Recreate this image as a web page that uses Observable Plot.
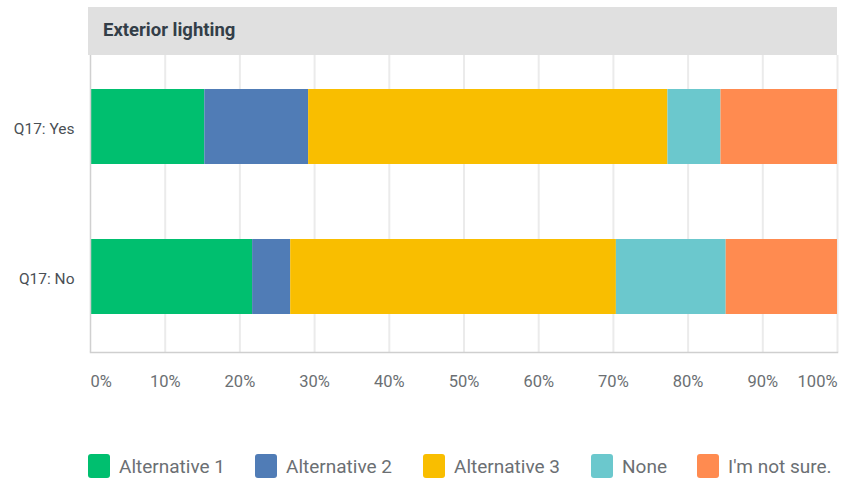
<!DOCTYPE html>
<html>
<head>
<meta charset="utf-8">
<script src="https://cdn.jsdelivr.net/npm/d3@7"></script>
<script src="https://cdn.jsdelivr.net/npm/@observablehq/plot@0.6"></script>
<style>
  html, body { margin: 0; padding: 0; background: #fff; }
  body { width: 841px; height: 481px; position: relative; overflow: hidden; font-family: Roboto, "Noto Sans", sans-serif; }
  #header { position: absolute; top: 7px; left: 88px; width: 749px; height: 48px; background: #e0e0e0;
            box-sizing: border-box; padding-left: 15px; line-height: 46px; font-size: 18.5px; font-weight: 700; color: #333e48; }
  #chart { position: absolute; top: 55px; left: 0; }
  #legend { position: absolute; top: 454px; left: 0; width: 841px; height: 24px; font-size: 19px; color: #6b6f73; }
  .item { position: absolute; top: 0; display: flex; align-items: center; height: 24px; white-space: nowrap; }
  .sw { width: 22px; height: 24px; border-radius: 3px; margin-right: 9px; }
</style>
</head>
<body>
<div id="header"></div>
<div id="chart"></div>
<div id="legend"></div>
<script>
const title = "Exterior lighting";
const categories = ["Q17: Yes", "Q17: No"];
const seriesNames = ["Alternative 1", "Alternative 2", "Alternative 3", "None", "I'm not sure."];
const colors = ["#00bf6f", "#507cb6", "#f9be00", "#6bc8cd", "#ff8b50"];
const valuesYes = [15.3, 13.9, 48.1, 7.1, 15.6];
const valuesNo = [21.7, 5.1, 43.6, 14.7, 14.9];
const tickValues = [0, 10, 20, 30, 40, 50, 60, 70, 80, 90, 100];

// layout (legend item left edges, px)
const legendLeft = [88, 255, 423, 591, 697];

const rows = [];
[valuesYes, valuesNo].forEach((vals, ci) => {
  vals.forEach((v, si) => rows.push({cat: categories[ci], series: seriesNames[si], value: v}));
});

document.getElementById("header").textContent = title;

const fmt = d => d + "%";
const tickStyle = {tickSize: 0, tickPadding: 23, tickFormat: fmt, fill: "#6b6f73", label: null, fontSize: 16.5};
const plot = Plot.plot({
  width: 841,
  height: 345,
  marginTop: 0,
  marginBottom: 48,
  marginLeft: 90,
  marginRight: 4,
  style: {fontFamily: "Roboto, sans-serif", fontSize: "16px", background: "transparent"},
  x: {domain: [0, 100]},
  y: {domain: categories, paddingInner: 0.5, paddingOuter: 0.24, range: [-2, 295]},
  color: {domain: seriesNames, range: colors},
  marks: [
    Plot.ruleX(tickValues.filter(d => d > 0), {stroke: "#ebebeb", strokeWidth: 2}),
    Plot.barX(rows, {y: "cat", x: "value", fill: "series", inset: 0}),
    Plot.ruleX([0], {stroke: "#d0d0d0", strokeWidth: 1.5}),
    Plot.frame({anchor: "bottom", stroke: "#cfcfcf", strokeWidth: 1.5}),
    Plot.axisY({tickSize: 0, tickPadding: 16, dy: 2, fill: "#4a4f55", label: null, fontSize: 15.5}),
    Plot.axisX({...tickStyle, ticks: [0], textAnchor: "start"}),
    Plot.axisX({...tickStyle, ticks: tickValues.slice(1, -1)}),
    Plot.axisX({...tickStyle, ticks: [100], textAnchor: "end"})
  ]
});
document.getElementById("chart").appendChild(plot);

const legend = document.getElementById("legend");
seriesNames.forEach((name, i) => {
  const item = document.createElement("div");
  item.className = "item";
  item.style.left = legendLeft[i] + "px";
  const sw = document.createElement("div");
  sw.className = "sw";
  sw.style.background = colors[i];
  const t = document.createElement("span");
  t.textContent = name;
  item.appendChild(sw);
  item.appendChild(t);
  legend.appendChild(item);
});
</script>
</body>
</html>
